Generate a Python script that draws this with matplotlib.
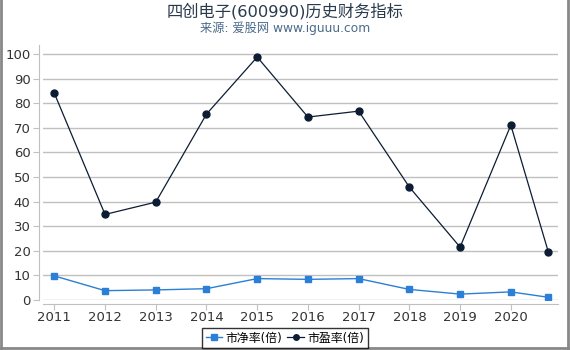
import matplotlib
matplotlib.use('Agg')
import matplotlib.pyplot as plt
from matplotlib.lines import Line2D

# DejaVu first for latin/digits, CJK falls back to Noto
plt.rcParams['font.family'] = ['DejaVu Sans', 'Noto Sans CJK SC']

years = [2011, 2012, 2013, 2014, 2015, 2016, 2017, 2018, 2019, 2020, 2020.74]
pb = [9.8, 3.8, 4.1, 4.6, 8.7, 8.4, 8.7, 4.3, 2.4, 3.3, 1.1]
pe = [84.1, 34.8, 39.8, 75.6, 98.8, 74.4, 76.8, 45.9, 21.5, 71.1, 19.5]
xticks = [2011, 2012, 2013, 2014, 2015, 2016, 2017, 2018, 2019, 2020]
yticks = [0, 10, 20, 30, 40, 50, 60, 70, 80, 90, 100]

W, H = 570, 350
fig = plt.figure(figsize=(5.7, 3.5), dpi=100)
ax = fig.add_axes([43 / W, 1 - 300 / H, (558 - 43) / W, (300 - 45) / H])

ax.plot(years, pb, color='#2b7fd6', marker='s', markersize=5, lw=1, label='市净率(倍)')
ax.plot(years, pe, color='#0c1d33', marker='o', markersize=5, lw=0.9, label='市盈率(倍)')

ax.set_xlim(2010.777, 2020.93)
ax.set_ylim(0, 103.7)
ax.set_xticks(xticks)
ax.set_xticklabels([str(x) for x in xticks])
ax.set_yticks(yticks)
ax.set_yticklabels([str(y) for y in yticks])
ax.grid(axis='y', color='#c0c0c0', lw=1)
ax.set_axisbelow(True)

for s in ['top', 'right']:
    ax.spines[s].set_visible(False)
ax.spines['left'].set_color('#c0c0c0')
ax.spines['left'].set_position(('outward', 3))
ax.spines['bottom'].set_color('#c0c0c0')
ax.spines['bottom'].set_position(('outward', 3))
ax.tick_params(axis='y', length=4, color='#c0c0c0', pad=2, labelsize=9.5, labelcolor='#333333')
ax.tick_params(axis='x', length=4, color='#c0c0c0', pad=1, labelsize=9.5, labelcolor='#333333')

fig.text(0.5, 1 - 11 / H, '四创电子(600990)历史财务指标', ha='center', va='center',
         fontsize=11.7, color='#2a3a4d')
fig.text(0.5, 1 - 28 / H, '来源: 爱股网 www.iguuu.com', ha='center', va='center',
         fontsize=8.8, color='#4a6a8c')

leg = fig.legend(loc='center', bbox_to_anchor=(285 / W, 1 - 338 / H), ncol=2,
                 fontsize=8.6, frameon=True, fancybox=False, handlelength=1.4,
                 handletextpad=0.3, columnspacing=0.4, borderpad=0.3, markerscale=0.8)
leg.get_frame().set_edgecolor('black')
leg.get_frame().set_linewidth(1)

# outer border (left, right, bottom)
fig.add_artist(Line2D([1 / W, 1 / W], [0, 1], color='#888888', lw=2, transform=fig.transFigure))
fig.add_artist(Line2D([568 / W, 568 / W], [0, 1], color='#888888', lw=2, transform=fig.transFigure))
fig.add_artist(Line2D([0, 1], [2 / H, 2 / H], color='#888888', lw=2, transform=fig.transFigure))

fig.savefig('out.png', dpi=100)
